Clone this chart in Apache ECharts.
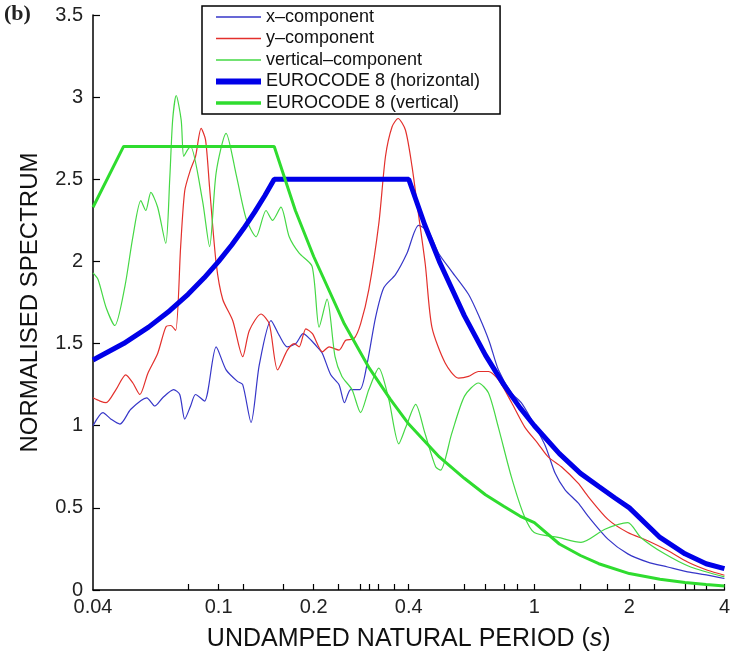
<!DOCTYPE html>
<html>
<head>
<meta charset="utf-8">
<script src="https://cdn.jsdelivr.net/npm/echarts@6/dist/echarts.min.js"></script>
<style>
  html, body { margin: 0; padding: 0; background: #fff; }
  #spectrum { width: 733px; height: 657px; }
</style>
</head>
<body>
<div id="spectrum"></div>
<script>
// periods (s) and normalised spectral values
const xCompPeriod = [0.04, 0.043, 0.0456, 0.0487, 0.0527, 0.0592, 0.0628, 0.0665, 0.072, 0.0753, 0.0781, 0.0815, 0.0845, 0.0902,
  0.0982, 0.1056, 0.1147, 0.1192, 0.1267, 0.1345, 0.1465, 0.1556, 0.1649, 0.1757, 0.1852, 0.1963, 0.205, 0.2131, 0.2265,
  0.2406, 0.2504, 0.2619, 0.2802, 0.2955, 0.3141, 0.3335, 0.3631, 0.395, 0.43, 0.4626, 0.4973, 0.5469, 0.6185, 0.67,
  0.7205, 0.7692, 0.8453, 0.9088, 0.9772, 1.082, 1.164, 1.251, 1.376, 1.479, 1.71, 1.977, 2.287, 2.644, 3.058, 3.536, 4.0];
const xCompValue = [1.00, 1.08, 1.04, 1.01, 1.10, 1.17, 1.12, 1.17, 1.22, 1.19, 1.04, 1.12, 1.19, 1.15,
  1.48, 1.34, 1.27, 1.25, 1.02, 1.37, 1.64, 1.55, 1.48, 1.50, 1.56, 1.52, 1.48, 1.44, 1.31,
  1.25, 1.14, 1.22, 1.22, 1.38, 1.66, 1.84, 1.92, 2.05, 2.22, 2.18, 2.05, 1.94, 1.80, 1.66,
  1.51, 1.34, 1.20, 1.14, 1.04, 0.88, 0.71, 0.61, 0.53, 0.45, 0.31, 0.22, 0.17, 0.14, 0.11, 0.09, 0.07];

const yCompPeriod = [0.04, 0.0421, 0.044, 0.0473, 0.0508, 0.0535, 0.0563, 0.0597, 0.0641, 0.068, 0.0705, 0.0731, 0.0758,
  0.0781, 0.0815, 0.0845, 0.088, 0.0909, 0.0936, 0.0982, 0.103, 0.1108, 0.1192, 0.1251, 0.1362, 0.1447, 0.1537, 0.1651,
  0.1735, 0.1799, 0.1889, 0.1982, 0.2131, 0.2238, 0.2406, 0.2526, 0.2683, 0.2816, 0.2991, 0.3216, 0.3377, 0.3543, 0.3701,
  0.3905, 0.4096, 0.43, 0.4515, 0.4737, 0.5223, 0.5751, 0.6185, 0.6653, 0.7153, 0.7692, 0.8475, 0.9336, 1.028, 1.106,
  1.218, 1.376, 1.479, 1.71, 1.977, 2.287, 2.644, 3.058, 3.536, 4.0];
const yCompValue = [1.17, 1.15, 1.14, 1.22, 1.31, 1.26, 1.19, 1.32, 1.44, 1.60, 1.61, 1.58, 2.09,
  2.43, 2.56, 2.64, 2.81, 2.74, 2.45, 1.99, 1.77, 1.64, 1.42, 1.58, 1.68, 1.62, 1.34, 1.46,
  1.50, 1.48, 1.59, 1.56, 1.45, 1.48, 1.46, 1.52, 1.53, 1.62, 1.83, 2.23, 2.64, 2.82, 2.87,
  2.80, 2.58, 2.28, 1.98, 1.60, 1.38, 1.29, 1.30, 1.33, 1.33, 1.28, 1.14, 0.99, 0.89, 0.81,
  0.75, 0.65, 0.57, 0.43, 0.35, 0.30, 0.24, 0.17, 0.12, 0.09];

const vCompPeriod = [0.04, 0.0415, 0.044, 0.0469, 0.0505, 0.0535, 0.0567, 0.0588, 0.061, 0.0641, 0.068, 0.07, 0.0715,
  0.0734, 0.0761, 0.0775, 0.0798, 0.0815, 0.0889, 0.0936, 0.0982, 0.1056, 0.1136, 0.1222, 0.1314, 0.1413, 0.1482,
  0.1575, 0.1673, 0.1799, 0.1977, 0.2081, 0.2205, 0.2337, 0.2458, 0.2644, 0.2816, 0.2991, 0.3216, 0.3459, 0.372,
  0.3914, 0.4209, 0.4493, 0.4867, 0.5048, 0.5469, 0.6009, 0.6653, 0.7153, 0.7692, 0.8453, 0.9289, 0.9989, 1.189,
  1.405, 1.673, 1.977, 2.173, 2.586, 3.124, 4.0];
const vCompValue = [1.93, 1.89, 1.72, 1.61, 1.85, 2.15, 2.37, 2.31, 2.42, 2.33, 2.11, 2.50, 2.86,
  3.01, 2.86, 2.64, 2.68, 2.70, 2.37, 2.09, 2.54, 2.78, 2.53, 2.26, 2.15, 2.31, 2.25,
  2.33, 2.15, 2.05, 1.97, 1.60, 1.77, 1.42, 1.30, 1.22, 1.08, 1.22, 1.35, 1.16, 0.89,
  0.99, 1.13, 0.96, 0.75, 0.73, 0.95, 1.18, 1.26, 1.20, 0.99, 0.69, 0.45, 0.35, 0.32,
  0.29, 0.37, 0.41, 0.32, 0.22, 0.14, 0.08];

const ec8hPeriod = [0.04, 0.05, 0.06, 0.07, 0.08, 0.09, 0.1, 0.11, 0.12, 0.13, 0.14, 0.15, 0.4, 0.45, 0.5, 0.6, 0.7,
  0.8, 0.9, 1.0, 1.2, 1.4, 1.6, 1.8, 2.0, 2.5, 3.0, 3.5, 4.0];
const ec8hValue = [1.40, 1.50, 1.60, 1.70, 1.80, 1.90, 2.00, 2.10, 2.20, 2.30, 2.40, 2.50, 2.50, 2.22, 2.00, 1.67, 1.43,
  1.25, 1.11, 1.00, 0.83, 0.71, 0.63, 0.56, 0.50, 0.32, 0.22, 0.16, 0.13];

const ec8vPeriod = [0.04, 0.05, 0.15, 0.175, 0.2, 0.25, 0.3, 0.35, 0.4, 0.5, 0.6, 0.7, 0.8, 0.9, 1.0, 1.2, 1.4, 1.6,
  2.0, 2.5, 3.0, 3.5, 4.0];
const ec8vValue = [2.33, 2.70, 2.70, 2.31, 2.03, 1.62, 1.35, 1.16, 1.01, 0.81, 0.68, 0.58, 0.51, 0.45, 0.41, 0.28, 0.21,
  0.16, 0.10, 0.065, 0.045, 0.033, 0.025];

const periodLabels = [0.04, 0.1, 0.2, 0.4, 1, 2, 4];
const periodTicks = [0.08, 0.1, 0.12, 0.16, 0.2, 0.24, 0.28, 0.3, 0.32, 0.36, 0.4, 0.6, 0.7, 0.8, 0.88, 1,
  1.4, 1.7, 2, 2.4, 3, 3.2, 3.5, 4];

const pairs = (xs, ys) => xs.map((x, i) => [x, ys[i]]);
const font = 'Liberation Sans, Arial, sans-serif';

const chart = echarts.init(document.getElementById('spectrum'), null, { renderer: 'canvas' });

const thin = (name, color, xs, ys) => ({
  name: name,
  type: 'line',
  data: pairs(xs, ys),
  showSymbol: false,
  symbol: 'none',
  smooth: 0.25,
  lineStyle: { color: color, width: 1.2 },
  itemStyle: { color: color },
  z: 2
});

chart.setOption({
  animation: false,
  backgroundColor: '#fff',
  grid: { left: 93, right: 6, top: 15, bottom: 66 },
  graphic: [{
    type: 'text', left: 4, top: 3,
    style: { text: '(b)', font: 'bold 22px Liberation Serif, Times New Roman, serif', fill: '#222' }
  }],
  legend: {
    orient: 'vertical',
    left: 202, top: 6,
    padding: [2, 20, 2, 11],
    itemWidth: 45, itemHeight: 14, itemGap: 3.5,
    borderColor: '#000', borderWidth: 1.5,
    backgroundColor: '#fff',
    itemStyle: { opacity: 0 },
    textStyle: { fontFamily: font, fontSize: 18, lineHeight: 17, color: '#111' },
    data: [
      { name: 'x\u2013component', lineStyle: { width: 1.5 } },
      { name: 'y\u2013component', lineStyle: { width: 1.5 } },
      { name: 'vertical\u2013component', lineStyle: { width: 1.5 } },
      { name: 'EUROCODE 8 (horizontal)', lineStyle: { width: 6 } },
      { name: 'EUROCODE 8 (vertical)', lineStyle: { width: 3.5 } }
    ]
  },
  xAxis: {
    type: 'log', logBase: 10, min: 0.04, max: 4,
    name: 'UNDAMPED NATURAL PERIOD ({i|s})',
    nameLocation: 'middle', nameGap: 37,
    nameTextStyle: {
      fontFamily: font, fontSize: 25, color: '#111',
      rich: { i: { fontFamily: font, fontSize: 25, fontStyle: 'italic', color: '#111' } }
    },
    axisLine: { onZero: false, lineStyle: { color: '#000', width: 1.5 } },
    axisTick: { inside: true, length: 6, customValues: periodTicks, lineStyle: { color: '#000', width: 1.2 } },
    minorTick: { show: false },
    splitLine: { show: false },
    axisLabel: {
      customValues: periodLabels, margin: 7,
      fontFamily: font, fontSize: 20, color: '#222',
      formatter: v => String(+(+v).toPrecision(3))
    }
  },
  yAxis: {
    type: 'value', min: 0, max: 3.5, interval: 0.5,
    name: 'NORMALISED SPECTRUM',
    nameLocation: 'middle', nameGap: 51,
    nameTextStyle: { fontFamily: font, fontSize: 24, color: '#111' },
    axisLine: { show: true, lineStyle: { color: '#000', width: 1.5 } },
    axisTick: { show: true, inside: true, length: 7, lineStyle: { color: '#000', width: 1.2 } },
    splitLine: { show: false },
    axisLabel: { margin: 10, fontFamily: font, fontSize: 20, color: '#222' }
  },
  series: [
    thin('x\u2013component', '#3636c8', xCompPeriod, xCompValue),
    thin('y\u2013component', '#e3302c', yCompPeriod, yCompValue),
    thin('vertical\u2013component', '#45d845', vCompPeriod, vCompValue),
    {
      name: 'EUROCODE 8 (horizontal)', type: 'line', data: pairs(ec8hPeriod, ec8hValue),
      showSymbol: false, symbol: 'none', smooth: false,
      lineStyle: { color: '#0000e8', width: 5 }, itemStyle: { color: '#0000e8' }, z: 3
    },
    {
      name: 'EUROCODE 8 (vertical)', type: 'line', data: pairs(ec8vPeriod, ec8vValue),
      showSymbol: false, symbol: 'none', smooth: false,
      lineStyle: { color: '#2fdc2f', width: 3 }, itemStyle: { color: '#2fdc2f' }, z: 4
    }
  ]
});
</script>
</body>
</html>
